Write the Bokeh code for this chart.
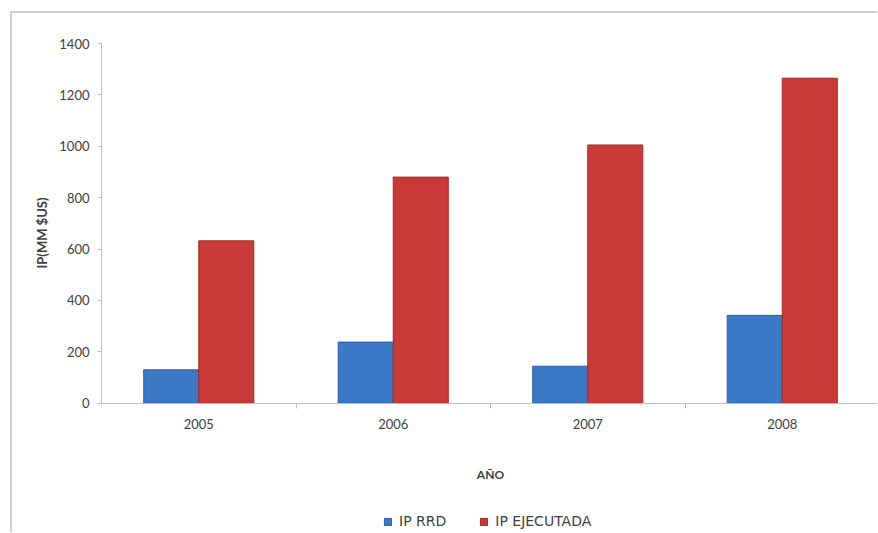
from bokeh.plotting import figure
from bokeh.models import ColumnDataSource, FixedTicker, Range1d, Legend, LegendItem, Title
from bokeh.transform import dodge
from bokeh.embed import file_html
from bokeh.resources import INLINE

years = ["2005", "2006", "2007", "2008"]
ip_rrd = [130, 238, 144, 342]
ip_ejecutada = [632, 880, 1005, 1265]
y_ticks = [0, 200, 400, 600, 800, 1000, 1200, 1400]

xs = [i + 0.5 for i in range(len(years))]
src = ColumnDataSource(dict(x=xs, rrd=ip_rrd, eje=ip_ejecutada))

FONT = "Lato"
TXT = "#404040"

# frame spans down to the legend; value axis runs 0..1400 from y=43 to y=402
Y_MAX = 1400
Y_MIN = -(533 - 402) / (402 - 43) * Y_MAX

p = figure(width=867, height=521, output_backend="svg", toolbar_location=None,
           x_range=Range1d(0, len(years)), y_range=Range1d(Y_MIN, Y_MAX),
           min_border_left=89, min_border_right=0, min_border_top=30, min_border_bottom=0)
p.outline_line_color = None
p.grid.grid_line_color = None
p.background_fill_color = "white"
p.border_fill_color = "white"
p.styles = {"margin-left": "10px", "margin-top": "11px",
            "border-left": "2px solid #cfcfcf", "border-top": "2px solid #cfcfcf"}

r1 = p.vbar(x=dodge("x", -0.1415, range=p.x_range), top="rrd", width=0.283, source=src,
            fill_color="#3b78c6", line_color="#2d5f9e", line_width=1)
r2 = p.vbar(x=dodge("x", 0.1415, range=p.x_range), top="eje", width=0.283, source=src,
            fill_color="#c93a38", line_color="#a02a28", line_width=1)

# x axis, drawn at value 0
xa = p.xaxis[0]
xa.fixed_location = 0
xa.ticker = FixedTicker(ticks=xs, minor_ticks=list(range(len(years) + 1)))
xa.major_label_overrides = {x: y for x, y in zip(xs, years)}
xa.major_tick_out = 0
xa.major_tick_in = 0
xa.minor_tick_out = 5
xa.minor_tick_in = 0
xa.minor_tick_line_color = "#bfbfbf"
xa.axis_line_color = "#bfbfbf"
xa.major_label_text_font = FONT
xa.major_label_text_font_size = "13px"
xa.major_label_text_color = TXT
xa.major_label_standoff = 11
xa.axis_label = "AÑO"
xa.axis_label_text_font = FONT
xa.axis_label_text_font_size = "12px"
xa.axis_label_text_font_style = "bold"
xa.axis_label_text_color = TXT
xa.axis_label_standoff = 34

# y axis
ya = p.yaxis[0]
ya.bounds = (0, Y_MAX)
ya.ticker = FixedTicker(ticks=y_ticks)
ya.minor_tick_line_color = None
ya.major_tick_out = 4
ya.major_tick_in = 0
ya.major_tick_line_color = "#bfbfbf"
ya.axis_line_color = "#bfbfbf"
ya.major_label_text_font = FONT
ya.major_label_text_font_size = "13px"
ya.major_label_text_color = TXT
ya.major_label_standoff = 8

ytitle = Title(text="IP(MM $US)", align="right", offset=154, standoff=14,
               text_font=FONT, text_font_size="13px", text_font_style="bold",
               text_color=TXT)
p.add_layout(ytitle, "left")

legend = Legend(items=[LegendItem(label="IP RRD", renderers=[r1]),
                       LegendItem(label="IP EJECUTADA", renderers=[r2])],
                orientation="horizontal", location=(282, 5),
                border_line_color=None, background_fill_alpha=0,
                label_text_font="DejaVu Sans", label_text_font_size="14px", label_text_color=TXT,
                glyph_width=9, glyph_height=9, spacing=33, label_standoff=7, padding=2,
                margin=0)
p.add_layout(legend, "center")

open("out.html", "w").write(file_html(p, INLINE))
